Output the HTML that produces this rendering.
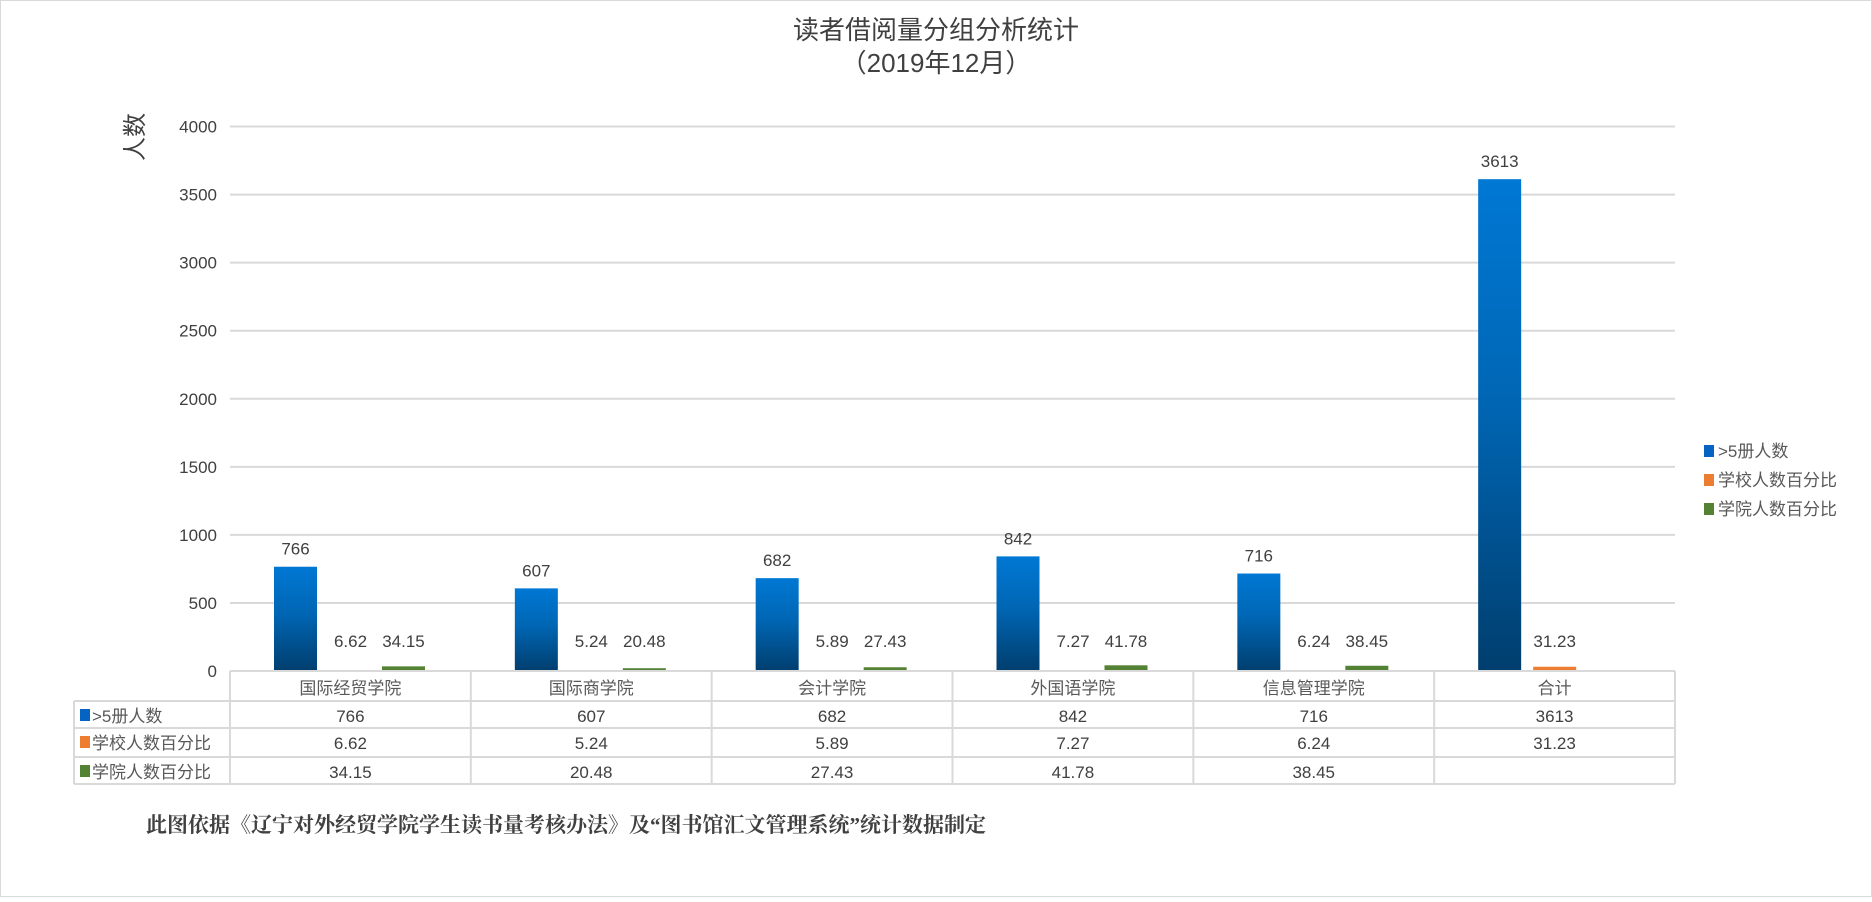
<!DOCTYPE html>
<html><head><meta charset="utf-8">
<style>
body{margin:0;background:#fff;}
svg text{font-family:"Liberation Sans","Noto Sans CJK SC",sans-serif;}
</style></head>
<body>
<svg id="chart" width="1872" height="897" viewBox="0 0 1872 897" xmlns="http://www.w3.org/2000/svg">
<defs>
<linearGradient id="gBlue" x1="0" y1="0" x2="0" y2="1">
<stop offset="0" stop-color="#0078d4"/><stop offset="0.45" stop-color="#0066b4"/><stop offset="1" stop-color="#003e6e"/>
</linearGradient>
</defs>
<rect x="0.5" y="0.5" width="1871" height="896" fill="#fff" stroke="#d9d9d9"/>
<text x="936" y="39" text-anchor="middle" font-size="26" fill="#404040">读者借阅量分组分析统计</text>
<text x="936" y="72" text-anchor="middle" font-size="26" fill="#404040">（2019年12月）</text>
<text transform="translate(143,137) rotate(-90)" text-anchor="middle" font-size="24" fill="#404040">人数</text>
<g id="grid"></g>
<g id="bars"></g>
<g id="table"></g>
<g id="legend"></g>
<text x="146" y="832" font-size="21" font-weight="bold" fill="#404040" style="font-family:'Liberation Serif','Noto Serif CJK SC',serif">此图依据《辽宁对外经贸学院学生读书量考核办法》及“图书馆汇文管理系统”统计数据制定</text>
</svg>
<script>
const categories=["国际经贸学院","国际商学院","会计学院","外国语学院","信息管理学院","合计"];
const seriesNames=[">5册人数","学校人数百分比","学院人数百分比"];
const booksOver5=[766,607,682,842,716,3613];
const schoolPct=[6.62,5.24,5.89,7.27,6.24,31.23];
const collegePct=[34.15,20.48,27.43,41.78,38.45,null];
const yTicks=[0,500,1000,1500,2000,2500,3000,3500,4000];
const yMax=4000;

const NS="http://www.w3.org/2000/svg";
const X0=230,X1=1675,Y0=671,Ytop=126.5;
const catW=(X1-X0)/categories.length;
const y=v=>Y0-(v/yMax)*(Y0-Ytop);
const x=i=>X0+i*catW;
function mk(tag,attrs,parent,txt){const e=document.createElementNS(NS,tag);for(const k in attrs)e.setAttribute(k,attrs[k]);if(txt!==undefined)e.textContent=txt;parent.appendChild(e);return e;}
const series=[booksOver5,schoolPct,collegePct];
const fills=["url(#gBlue)","#ed7d31","#548235"];
const swatch=["#0563c1","#ed7d31","#548235"];
const offs=[44,99,152],bw=43;

const grid=document.getElementById('grid');
yTicks.forEach(t=>{
  if(t>0){const l=mk('line',{x1:X0,x2:X1,y1:y(t),y2:y(t),stroke:'#d9d9d9','stroke-width':2},grid);
  
  }
  const tx=mk('text',{x:217,y:y(t)+6,'text-anchor':'end','font-size':17,fill:'#404040'},grid,String(t));
  
  
});

const bars=document.getElementById('bars');
series.forEach((s,si)=>{
  s.forEach((v,i)=>{
    if(v===null)return;
    const bx=x(i)+offs[si];
    const r=mk('rect',{x:bx,y:y(v),width:bw,height:Y0-y(v),fill:fills[si]},bars);
    
    
    const lbl=mk('text',{x:bx+bw/2,y:Math.min(y(v),Y0-12)-12,'text-anchor':'middle','font-size':17,fill:'#404040'},bars,String(v));
    
    
  });
});

const tb=document.getElementById('table');
const rows=[671,701,728,757,784];
const st={stroke:'#d9d9d9','stroke-width':2};
mk('line',Object.assign({x1:X0,x2:X1,y1:671,y2:671},st),tb);
for(let r=1;r<rows.length;r++)mk('line',Object.assign({x1:74,x2:X1,y1:rows[r],y2:rows[r]},st),tb);
mk('line',Object.assign({x1:74,x2:74,y1:701,y2:784},st),tb);
for(let i=0;i<=categories.length;i++)mk('line',Object.assign({x1:x(i),x2:x(i),y1:671,y2:784},st),tb);
categories.forEach((c,i)=>{
  const t=mk('text',{x:x(i)+catW/2,y:694,'text-anchor':'middle','font-size':17,fill:'#595959'},tb,c);
  
  
});
series.forEach((s,si)=>{
  const ry=rows[si+1]+21;
  const sw=mk('rect',{x:80,y:ry-13,width:10,height:12,fill:swatch[si]},tb);
  
  
  const n=mk('text',{x:92,y:ry,'font-size':17,fill:'#595959'},tb,seriesNames[si]);
  
  
  s.forEach((v,i)=>{
    if(v===null)return;
    const t=mk('text',{x:x(i)+catW/2,y:ry,'text-anchor':'middle','font-size':17,fill:'#404040'},tb,String(v));
    
    
  });
});

const lg=document.getElementById('legend');
const ly=[457,486,515];
seriesNames.forEach((n,si)=>{
  const r=mk('rect',{x:1704,y:ly[si]-12,width:10,height:12,fill:swatch[si]},lg);
  
  
  const t=mk('text',{x:1718,y:ly[si],'font-size':17,fill:'#595959'},lg,n);
  
  
});
</script>
</body></html>
